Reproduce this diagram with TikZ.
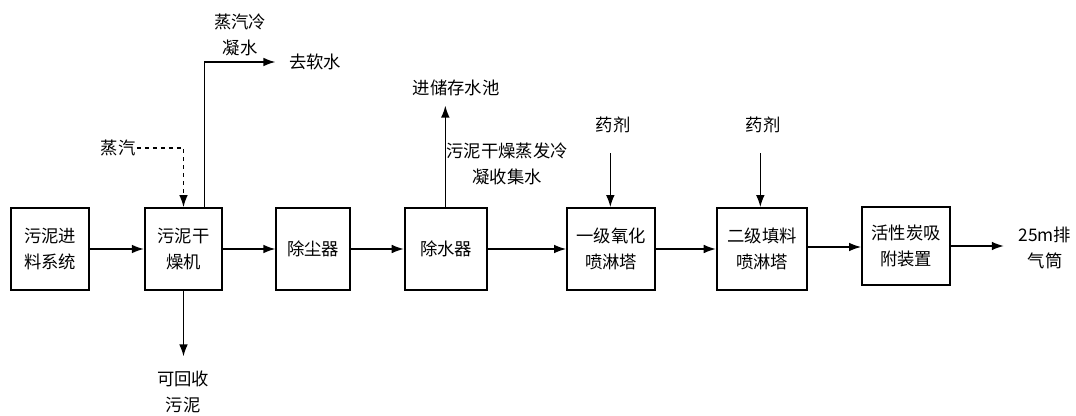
\documentclass[tikz,border=0pt]{standalone}
\usepackage{fontspec}
\setmainfont{Noto Sans CJK SC}
\usetikzlibrary{arrows.meta,positioning}
\tikzset{
    procbox/.style={draw, line width=1.4pt, minimum height=61.5pt, align=center, inner sep=2pt},
    flow/.style={-{Latex[length=9pt,width=6.5pt]}, line width=1pt},
    lbl/.style={align=center, inner sep=1pt}
}
\begin{document}
\begin{tikzpicture}[x=0.75pt, y=-0.75pt, font=\fontsize{13}{19}\selectfont]
    \useasboundingbox (0,0) rectangle (1076,416);

    % 1. Các thiết bị chính
    \node[procbox, minimum width=58pt] (feed)    at (50,249)  {污泥进\\料系统};
    \node[procbox, minimum width=58pt] (dryer)   at (183.5,249) {污泥干\\燥机};
    \node[procbox, minimum width=55pt] (dust)    at (313,249) {除尘器};
    \node[procbox, minimum width=62pt] (dewater) at (446,249) {除水器};
    \node[procbox, minimum width=66pt] (tower1)  at (611,249) {一级氧化\\喷淋塔};
    \node[procbox, minimum width=68pt] (tower2)  at (762,249) {二级填料\\喷淋塔};
    \node[procbox, minimum width=66pt, minimum height=59pt] (carbon) at (906,246) {活性炭吸\\附装置};

    % 2. Các nhãn vào / ra
    \node[lbl] (steam)   at (118,148) {蒸汽};
    \node[lbl] (cond)    at (240,35)  {蒸汽冷\\凝水};
    \node[lbl] (soft)    at (315,62)  {去软水};
    \node[lbl] (sludge)  at (183,392) {可回收\\污泥};
    \node[lbl] (pool)    at (456,88)  {进储存水池};
    \node[lbl] (collect) at (507,164) {污泥干燥蒸发冷\\凝收集水};
    \node[lbl] (agent1)  at (613,125) {药剂};
    \node[lbl] (agent2)  at (763,125) {药剂};
    \node[lbl] (stack)   at (1045,248) {25m排\\气筒};

    % 3. Dòng chính
    \draw[flow] (feed) -- (dryer);
    \draw[flow] (dryer) -- (dust);
    \draw[flow] (dust) -- (dewater);
    \draw[flow] (dewater) -- (tower1);
    \draw[flow] (tower1) -- (tower2);
    \draw[flow] ([yshift=1.5pt]tower2.east) -- ([yshift=1.5pt]tower2.east -| carbon.west);
    \draw[flow, shorten >=10pt] (carbon.east) -- (carbon.east -| stack.west);

    % 4. Dòng phụ
    \draw[flow, dashed] (steam.east) -| (dryer.north);
    \draw[flow, shorten >=9pt] ([xshift=15.5pt]dryer.north) |- (soft.west);
    \draw[flow, shorten >=10pt] (dryer.south) -- (dryer.south |- sludge.north);
    \draw[flow, shorten >=6pt] ([xshift=-0.5pt]dewater.north) -- ([xshift=-0.5pt]dewater.north |- pool.south);
    \draw[flow, shorten <=14pt] ([xshift=-2pt]agent1.south) -- ([xshift=-2pt]agent1.south |- tower1.north);
    \draw[flow, shorten <=14pt] ([xshift=-2pt]agent2.south) -- ([xshift=-2pt]agent2.south |- tower2.north);
\end{tikzpicture}
\end{document}
